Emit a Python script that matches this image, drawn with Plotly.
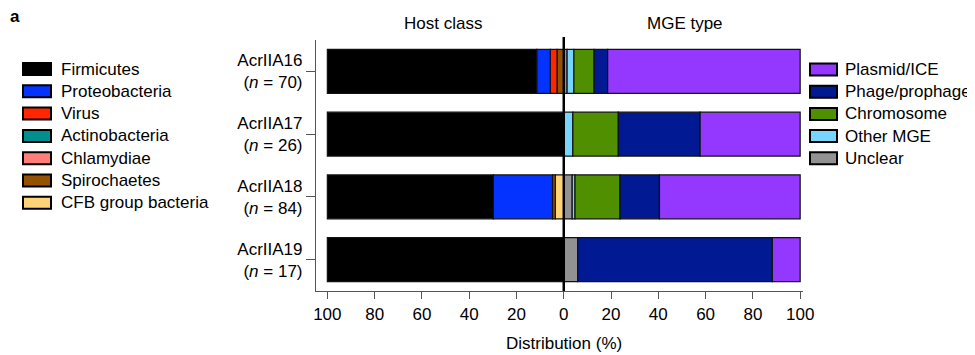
import plotly.graph_objects as go

# ---------------- data ----------------
acr_names = ["AcrIIA16", "AcrIIA17", "AcrIIA18", "AcrIIA19"]
n_values = [70, 26, 84, 17]

host_classes = ["Firmicutes", "Proteobacteria", "Virus", "Actinobacteria",
                "Chlamydiae", "Spirochaetes", "CFB group bacteria"]
host_colors = ["#000000", "#0433FF", "#FF2600", "#008F8F",
               "#FF7E79", "#945200", "#FFD479"]
host_counts = {
    "Firmicutes":         [62, 26, 59, 17],
    "Proteobacteria":     [4, 0, 21, 0],
    "Virus":              [2, 0, 0, 0],
    "Actinobacteria":     [0, 0, 0, 0],
    "Chlamydiae":         [0, 0, 0, 0],
    "Spirochaetes":       [2, 0, 1, 0],
    "CFB group bacteria": [0, 0, 3, 0],
}

mge_types = ["Plasmid/ICE", "Phage/prophage", "Chromosome", "Other MGE", "Unclear"]
mge_colors = ["#9437FF", "#011993", "#4F8F00", "#76D6FF", "#929292"]
mge_counts = {
    "Plasmid/ICE":    [57, 11, 50, 2],
    "Phage/prophage": [4, 9, 14, 14],
    "Chromosome":     [6, 5, 16, 0],
    "Other MGE":      [2, 1, 1, 0],
    "Unclear":        [1, 0, 3, 1],
}

x_tick_vals = [-100, -80, -60, -40, -20, 0, 20, 40, 60, 80, 100]
x_tick_text = ["100", "80", "60", "40", "20", "0", "20", "40", "60", "80", "100"]

# ---------------- layout geometry (reference pixel coords) ----------------
OFF = 8  # page body margin in the browser
W, H = 975 - OFF, 355 - OFF
PL, PR, PT, PB = 316, 803, 40, 291
FONT = "Liberation Sans, Arial, Helvetica, sans-serif"
FS = 17


def px2x(px):
    return (px - PL) / (PR - PL)


def px2y(py):
    return (PB - py) / (PB - PT)


cats = [f"{a}<br>(<i>n</i> = {n})" for a, n in zip(acr_names, n_values)]

fig = go.Figure()

# host class: negative side, stacked outward from 0 (Firmicutes outermost)
for name, col in reversed(list(zip(host_classes, host_colors))):
    vals = [(-c / n * 100) if c else None for c, n in zip(host_counts[name], n_values)]
    fig.add_trace(go.Bar(
        y=cats, x=vals, orientation="h", name=name, width=0.7,
        marker=dict(color=col, line=dict(color="#111111", width=1.2)),
        showlegend=False))

# MGE type: positive side, stacked from 0 (Unclear first)
for name, col in reversed(list(zip(mge_types, mge_colors))):
    vals = [(c / n * 100) if c else None for c, n in zip(mge_counts[name], n_values)]
    fig.add_trace(go.Bar(
        y=cats, x=vals, orientation="h", name=name, width=0.7,
        marker=dict(color=col, line=dict(color="#111111", width=1.2)),
        showlegend=False))

shapes = []
annotations = []

# center line
shapes.append(dict(type="line", xref="x", yref="paper", x0=0, x1=0,
                   y0=0, y1=px2y(37), line=dict(color="black", width=2.5),
                   layer="above"))


def add_legend(names, colors, sw_x0, sw_x1, text_x, y_first, step):
    for i, (nm, col) in enumerate(zip(names, colors)):
        yc = y_first + i * step
        shapes.append(dict(type="rect", xref="paper", yref="paper",
                           x0=px2x(sw_x0), x1=px2x(sw_x1),
                           y0=px2y(yc + 6), y1=px2y(yc - 6),
                           fillcolor=col, line=dict(color="black", width=2)))
        annotations.append(dict(xref="paper", yref="paper", x=px2x(text_x), y=px2y(yc),
                                text=nm, showarrow=False, xanchor="left",
                                yanchor="middle", font=dict(size=FS, color="black")))


add_legend(host_classes, host_colors, 23, 51, 59, 69, 22.3)
add_legend(mge_types, mge_colors, 810, 837, 843, 69.5, 22.2)

annotations += [
    dict(xref="paper", yref="paper", x=px2x(443), y=px2y(23), text="Host class",
         showarrow=False, xanchor="center", yanchor="middle", font=dict(size=FS)),
    dict(xref="paper", yref="paper", x=px2x(685), y=px2y(23), text="MGE type",
         showarrow=False, xanchor="center", yanchor="middle", font=dict(size=FS)),
    dict(xref="paper", yref="paper", x=px2x(15), y=px2y(16), text="<b>a</b>",
         showarrow=False, xanchor="center", yanchor="middle", font=dict(size=FS)),
    dict(xref="paper", yref="paper", x=px2x(564), y=px2y(343), text="Distribution (%)",
         showarrow=False, xanchor="center", yanchor="middle", font=dict(size=FS)),
]

fig.update_layout(
    width=W, height=H,
    margin=dict(l=PL - OFF, r=975 - PR, t=PT - OFF, b=355 - PB, pad=0),
    barmode="relative",
    plot_bgcolor="white", paper_bgcolor="white",
    font=dict(family=FONT, size=FS, color="black"),
    shapes=shapes, annotations=annotations,
    showlegend=False,
)
fig.update_xaxes(range=[-104.8, 101.2], tickvals=x_tick_vals, ticktext=x_tick_text,
                 showgrid=False, zeroline=False, showline=True, linecolor="#555555",
                 linewidth=1.2, ticks="outside", ticklen=7, tickcolor="#555555",
                 tickwidth=1.2, tickfont=dict(size=FS))
fig.update_yaxes(autorange="reversed", showgrid=False, zeroline=False, showline=True,
                 linecolor="#555555", linewidth=1.2, ticks="outside", ticklen=9,
                 tickcolor="#555555", tickwidth=1.2, tickfont=dict(size=FS),
                 ticklabelstandoff=0)

fig.write_html("out.html")
